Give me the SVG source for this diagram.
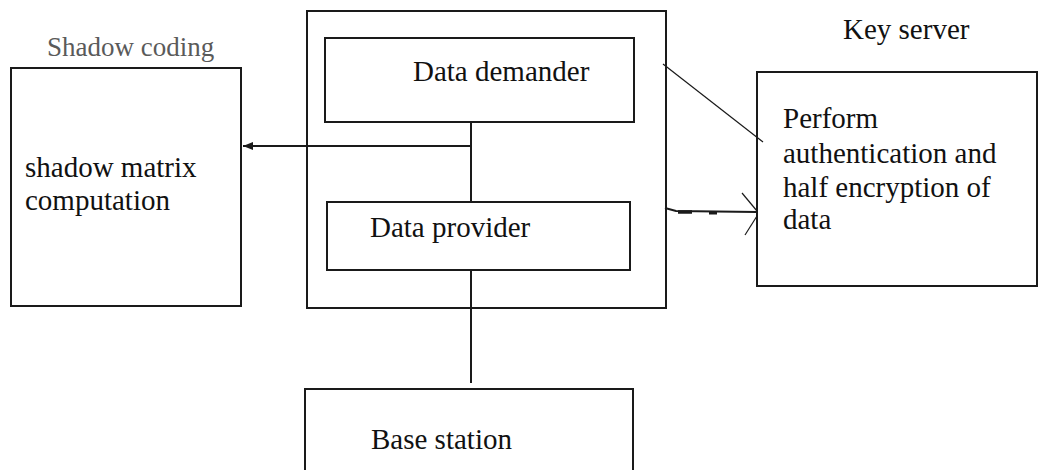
<svg xmlns="http://www.w3.org/2000/svg" width="1046" height="470" viewBox="0 0 1046 470">
  <style>
    .box { fill: none; stroke: #1a1a1a; stroke-width: 2; }
    .wire { fill: none; stroke: #1a1a1a; stroke-width: 2; }
    .thin { fill: none; stroke: #1a1a1a; stroke-width: 1.2; }
    .lbl { font-family: "Liberation Serif", "Times New Roman", serif; font-size: 29px; fill: #111; }
    .cap { font-family: "Liberation Serif", "Times New Roman", serif; font-size: 27px; fill: #5a5a5a; }
  </style>
  <defs>
    <marker id="headSolid" viewBox="0 0 10 8" refX="10" refY="4" markerWidth="5" markerHeight="4" orient="auto" markerUnits="strokeWidth">
      <path d="M0,0 L10,4 L0,8 Z" fill="#1a1a1a"/>
    </marker>
  </defs>
  <rect width="1046" height="470" fill="#ffffff"/>

  <!-- captions above the outer boxes -->
  <text class="cap" x="47" y="56">Shadow coding</text>
  <text class="lbl" x="843" y="39">Key server</text>

  <g id="shadow-coding">
    <rect class="box" x="11" y="68" width="230" height="238"/>
    <text class="lbl" x="25" y="177">shadow matrix</text>
    <text class="lbl" x="25" y="210">computation</text>
  </g>

  <g id="user-group">
    <rect class="box" x="307" y="11" width="359" height="297"/>
  </g>

  <g id="data-demander">
    <rect class="box" x="325" y="38" width="309" height="84"/>
    <text class="lbl" x="413" y="81">Data demander</text>
  </g>

  <g id="data-provider">
    <rect class="box" x="327" y="202" width="303" height="68"/>
    <text class="lbl" x="370" y="237">Data provider</text>
  </g>

  <g id="key-server">
    <rect class="box" x="757" y="72" width="280" height="214"/>
    <text class="lbl" x="783" y="128">Perform</text>
    <text class="lbl" x="783" y="163">authentication and</text>
    <text class="lbl" x="783" y="197">half encryption of</text>
    <text class="lbl" x="783" y="229">data</text>
  </g>

  <g id="base-station">
    <rect class="box" x="305" y="389" width="328" height="100"/>
    <text class="lbl" x="371" y="449">Base station</text>
  </g>

  <g id="connectors">
    <!-- demander to provider, with branch to shadow coding -->
    <line class="wire" x1="471" y1="122" x2="471" y2="202"/>
    <line class="wire" x1="471" y1="146" x2="243" y2="146" marker-end="url(#headSolid)"/>
    <!-- provider down to base station -->
    <line class="wire" x1="471" y1="270" x2="471" y2="383"/>
    <!-- demander side to key server -->
    <line class="thin" x1="663" y1="64" x2="763" y2="142"/>
    <!-- provider side to key server, open arrowhead -->
    <polyline class="wire" points="665,208 676,211 757,212"/>
    <line x1="678" y1="212" x2="692" y2="212" stroke="#1a1a1a" stroke-width="3.5"/>
    <line x1="709" y1="213" x2="717" y2="213" stroke="#1a1a1a" stroke-width="3"/>
    <line class="thin" x1="742" y1="193" x2="757" y2="211"/>
    <line class="thin" x1="745" y1="235" x2="757" y2="216"/>
  </g>
</svg>
